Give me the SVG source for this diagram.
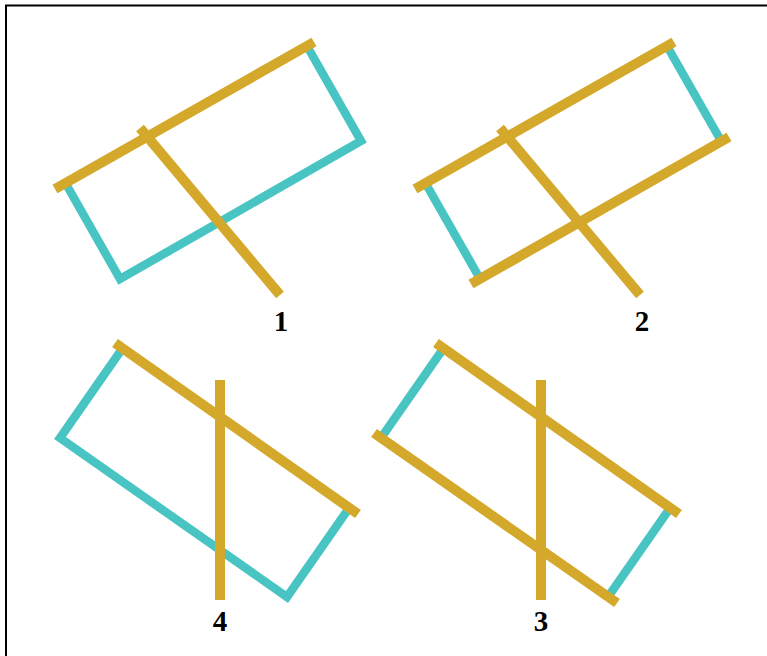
<svg xmlns="http://www.w3.org/2000/svg" width="767" height="656" viewBox="0 0 767 656">
<style>
.c{fill:none;stroke:#48C4C3;stroke-width:8.5;stroke-linejoin:miter;stroke-linecap:butt}
.g{fill:none;stroke:#D4A82A;stroke-width:10;stroke-linecap:butt}
.t{font-family:"Liberation Serif","Times New Roman",serif;font-weight:bold;font-size:29px;fill:#000;text-anchor:middle}
</style>
<rect x="0" y="0" width="767" height="656" fill="#fff"/>
<path d="M6,656 V5.5 H767" fill="none" stroke="#000" stroke-width="2"/>
<g id="panel1">
<polyline class="c" points="66,184 120,279 361,141 307,46"/>
<line class="g" x1="55" y1="189" x2="314" y2="42"/>
<line class="g" x1="140" y1="128" x2="280" y2="295"/>
<text class="t" x="281" y="331">1</text>
</g>
<g id="panel2">
<line class="c" x1="426" y1="184" x2="479" y2="277"/>
<line class="c" x1="667" y1="46" x2="720" y2="139"/>
<line class="g" x1="415" y1="189" x2="674" y2="42"/>
<line class="g" x1="471" y1="284" x2="729" y2="137"/>
<line class="g" x1="500" y1="128" x2="640" y2="295"/>
<text class="t" x="642" y="331">2</text>
</g>
<g id="panel4">
<polyline class="c" points="122,349 60,438 287,597 349,508"/>
<line class="g" x1="115" y1="343" x2="358" y2="514"/>
<line class="g" x1="220" y1="380" x2="220" y2="600"/>
<text class="t" x="220" y="631">4</text>
</g>
<g id="panel3">
<line class="c" x1="443" y1="349" x2="381" y2="438"/>
<line class="c" x1="670" y1="508" x2="608" y2="597"/>
<line class="g" x1="436" y1="343" x2="679" y2="514"/>
<line class="g" x1="374" y1="433" x2="617" y2="603"/>
<line class="g" x1="541" y1="380" x2="541" y2="600"/>
<text class="t" x="541" y="631">3</text>
</g>
</svg>
